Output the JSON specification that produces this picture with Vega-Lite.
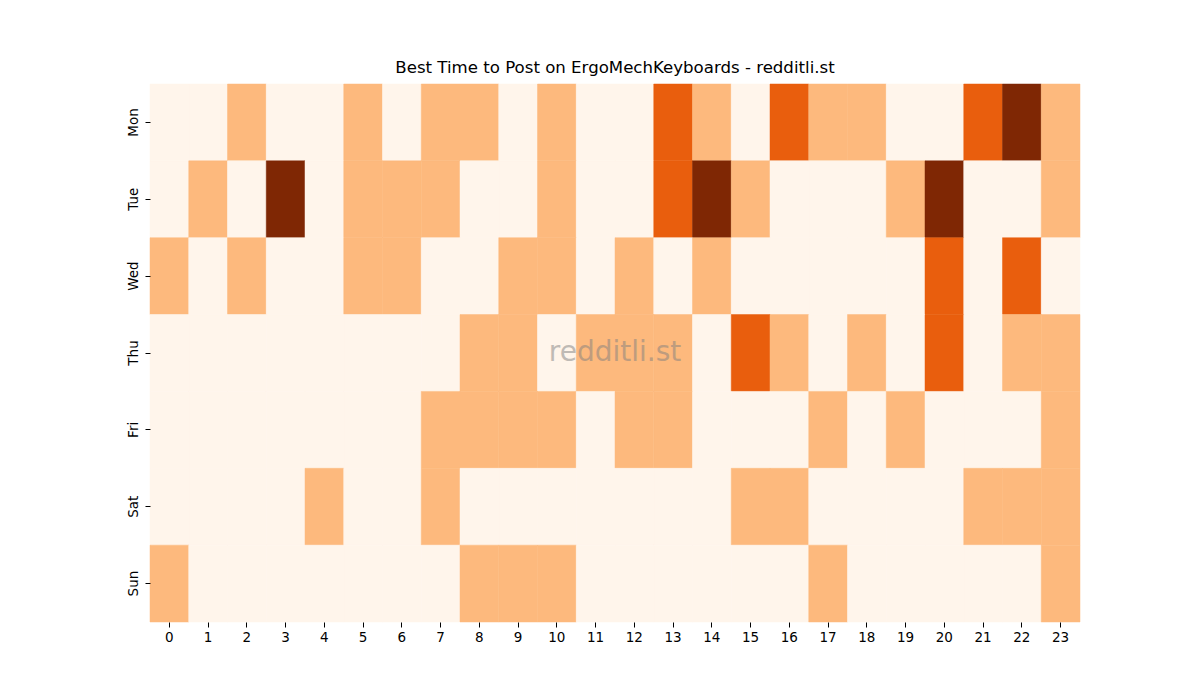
{
  "$schema": "https://vega.github.io/schema/vega-lite/v6.json",
  "autosize": {"type": "none"},
  "padding": {"left": 150, "top": 84, "right": 120, "bottom": 78},
  "width": 930,
  "height": 538,
  "title": {"text": "Best Time to Post on ErgoMechKeyboards - redditli.st", "fontSize": 16.6, "fontWeight": "normal", "font": "DejaVu Sans", "color": "black", "offset": 7},
  "config": {"view": {"stroke": null}, "font": "DejaVu Sans"},
  "layer": [
    {
      "data": {"values": [
        {"day":"Mon","hour":0,"level":0},{"day":"Mon","hour":1,"level":0},{"day":"Mon","hour":2,"level":1},{"day":"Mon","hour":3,"level":0},{"day":"Mon","hour":4,"level":0},{"day":"Mon","hour":5,"level":1},{"day":"Mon","hour":6,"level":0},{"day":"Mon","hour":7,"level":1},{"day":"Mon","hour":8,"level":1},{"day":"Mon","hour":9,"level":0},{"day":"Mon","hour":10,"level":1},{"day":"Mon","hour":11,"level":0},{"day":"Mon","hour":12,"level":0},{"day":"Mon","hour":13,"level":2},{"day":"Mon","hour":14,"level":1},{"day":"Mon","hour":15,"level":0},{"day":"Mon","hour":16,"level":2},{"day":"Mon","hour":17,"level":1},{"day":"Mon","hour":18,"level":1},{"day":"Mon","hour":19,"level":0},{"day":"Mon","hour":20,"level":0},{"day":"Mon","hour":21,"level":2},{"day":"Mon","hour":22,"level":3},{"day":"Mon","hour":23,"level":1},
        {"day":"Tue","hour":0,"level":0},{"day":"Tue","hour":1,"level":1},{"day":"Tue","hour":2,"level":0},{"day":"Tue","hour":3,"level":3},{"day":"Tue","hour":4,"level":0},{"day":"Tue","hour":5,"level":1},{"day":"Tue","hour":6,"level":1},{"day":"Tue","hour":7,"level":1},{"day":"Tue","hour":8,"level":0},{"day":"Tue","hour":9,"level":0},{"day":"Tue","hour":10,"level":1},{"day":"Tue","hour":11,"level":0},{"day":"Tue","hour":12,"level":0},{"day":"Tue","hour":13,"level":2},{"day":"Tue","hour":14,"level":3},{"day":"Tue","hour":15,"level":1},{"day":"Tue","hour":16,"level":0},{"day":"Tue","hour":17,"level":0},{"day":"Tue","hour":18,"level":0},{"day":"Tue","hour":19,"level":1},{"day":"Tue","hour":20,"level":3},{"day":"Tue","hour":21,"level":0},{"day":"Tue","hour":22,"level":0},{"day":"Tue","hour":23,"level":1},
        {"day":"Wed","hour":0,"level":1},{"day":"Wed","hour":1,"level":0},{"day":"Wed","hour":2,"level":1},{"day":"Wed","hour":3,"level":0},{"day":"Wed","hour":4,"level":0},{"day":"Wed","hour":5,"level":1},{"day":"Wed","hour":6,"level":1},{"day":"Wed","hour":7,"level":0},{"day":"Wed","hour":8,"level":0},{"day":"Wed","hour":9,"level":1},{"day":"Wed","hour":10,"level":1},{"day":"Wed","hour":11,"level":0},{"day":"Wed","hour":12,"level":1},{"day":"Wed","hour":13,"level":0},{"day":"Wed","hour":14,"level":1},{"day":"Wed","hour":15,"level":0},{"day":"Wed","hour":16,"level":0},{"day":"Wed","hour":17,"level":0},{"day":"Wed","hour":18,"level":0},{"day":"Wed","hour":19,"level":0},{"day":"Wed","hour":20,"level":2},{"day":"Wed","hour":21,"level":0},{"day":"Wed","hour":22,"level":2},{"day":"Wed","hour":23,"level":0},
        {"day":"Thu","hour":0,"level":0},{"day":"Thu","hour":1,"level":0},{"day":"Thu","hour":2,"level":0},{"day":"Thu","hour":3,"level":0},{"day":"Thu","hour":4,"level":0},{"day":"Thu","hour":5,"level":0},{"day":"Thu","hour":6,"level":0},{"day":"Thu","hour":7,"level":0},{"day":"Thu","hour":8,"level":1},{"day":"Thu","hour":9,"level":1},{"day":"Thu","hour":10,"level":0},{"day":"Thu","hour":11,"level":1},{"day":"Thu","hour":12,"level":1},{"day":"Thu","hour":13,"level":1},{"day":"Thu","hour":14,"level":0},{"day":"Thu","hour":15,"level":2},{"day":"Thu","hour":16,"level":1},{"day":"Thu","hour":17,"level":0},{"day":"Thu","hour":18,"level":1},{"day":"Thu","hour":19,"level":0},{"day":"Thu","hour":20,"level":2},{"day":"Thu","hour":21,"level":0},{"day":"Thu","hour":22,"level":1},{"day":"Thu","hour":23,"level":1},
        {"day":"Fri","hour":0,"level":0},{"day":"Fri","hour":1,"level":0},{"day":"Fri","hour":2,"level":0},{"day":"Fri","hour":3,"level":0},{"day":"Fri","hour":4,"level":0},{"day":"Fri","hour":5,"level":0},{"day":"Fri","hour":6,"level":0},{"day":"Fri","hour":7,"level":1},{"day":"Fri","hour":8,"level":1},{"day":"Fri","hour":9,"level":1},{"day":"Fri","hour":10,"level":1},{"day":"Fri","hour":11,"level":0},{"day":"Fri","hour":12,"level":1},{"day":"Fri","hour":13,"level":1},{"day":"Fri","hour":14,"level":0},{"day":"Fri","hour":15,"level":0},{"day":"Fri","hour":16,"level":0},{"day":"Fri","hour":17,"level":1},{"day":"Fri","hour":18,"level":0},{"day":"Fri","hour":19,"level":1},{"day":"Fri","hour":20,"level":0},{"day":"Fri","hour":21,"level":0},{"day":"Fri","hour":22,"level":0},{"day":"Fri","hour":23,"level":1},
        {"day":"Sat","hour":0,"level":0},{"day":"Sat","hour":1,"level":0},{"day":"Sat","hour":2,"level":0},{"day":"Sat","hour":3,"level":0},{"day":"Sat","hour":4,"level":1},{"day":"Sat","hour":5,"level":0},{"day":"Sat","hour":6,"level":0},{"day":"Sat","hour":7,"level":1},{"day":"Sat","hour":8,"level":0},{"day":"Sat","hour":9,"level":0},{"day":"Sat","hour":10,"level":0},{"day":"Sat","hour":11,"level":0},{"day":"Sat","hour":12,"level":0},{"day":"Sat","hour":13,"level":0},{"day":"Sat","hour":14,"level":0},{"day":"Sat","hour":15,"level":1},{"day":"Sat","hour":16,"level":1},{"day":"Sat","hour":17,"level":0},{"day":"Sat","hour":18,"level":0},{"day":"Sat","hour":19,"level":0},{"day":"Sat","hour":20,"level":0},{"day":"Sat","hour":21,"level":1},{"day":"Sat","hour":22,"level":1},{"day":"Sat","hour":23,"level":1},
        {"day":"Sun","hour":0,"level":1},{"day":"Sun","hour":1,"level":0},{"day":"Sun","hour":2,"level":0},{"day":"Sun","hour":3,"level":0},{"day":"Sun","hour":4,"level":0},{"day":"Sun","hour":5,"level":0},{"day":"Sun","hour":6,"level":0},{"day":"Sun","hour":7,"level":0},{"day":"Sun","hour":8,"level":1},{"day":"Sun","hour":9,"level":1},{"day":"Sun","hour":10,"level":1},{"day":"Sun","hour":11,"level":0},{"day":"Sun","hour":12,"level":0},{"day":"Sun","hour":13,"level":0},{"day":"Sun","hour":14,"level":0},{"day":"Sun","hour":15,"level":0},{"day":"Sun","hour":16,"level":0},{"day":"Sun","hour":17,"level":1},{"day":"Sun","hour":18,"level":0},{"day":"Sun","hour":19,"level":0},{"day":"Sun","hour":20,"level":0},{"day":"Sun","hour":21,"level":0},{"day":"Sun","hour":22,"level":0},{"day":"Sun","hour":23,"level":1}
      ]},
      "mark": {"type": "rect", "strokeWidth": 0.5},
      "encoding": {
        "x": {
          "field": "hour", "type": "ordinal",
          "scale": {"paddingInner": 0, "paddingOuter": 0},
          "axis": {"title": null, "labelAngle": 0, "domain": false, "tickColor": "black", "tickSize": 5, "labelFontSize": 13.5, "labelColor": "black", "labelPadding": 3}
        },
        "y": {
          "field": "day", "type": "ordinal",
          "sort": ["Mon", "Tue", "Wed", "Thu", "Fri", "Sat", "Sun"],
          "scale": {"paddingInner": 0, "paddingOuter": 0},
          "axis": {"title": null, "labelAngle": 270, "labelAlign": "center", "labelBaseline": "bottom", "domain": false, "tickColor": "black", "tickSize": 5, "labelFontSize": 13.5, "labelColor": "black", "labelPadding": 5}
        },
        "color": {
          "field": "level", "type": "ordinal",
          "scale": {"domain": [0, 1, 2, 3], "range": ["#fff5eb", "#fdb97d", "#e95e0d", "#7f2704"]},
          "legend": null
        },
        "stroke": {
          "field": "level", "type": "ordinal",
          "scale": {"domain": [0, 1, 2, 3], "range": ["#fff5eb", "#fdb97d", "#e95e0d", "#7f2704"]},
          "legend": null
        }
      }
    },
    {
      "data": {"values": [{"label": "redditli.st"}]},
      "mark": {"type": "text", "fontSize": 28, "color": "gray", "opacity": 0.5, "align": "center", "baseline": "middle"},
      "encoding": {
        "x": {"datum": 12, "type": "ordinal", "bandPosition": 0},
        "y": {"datum": "Thu", "type": "ordinal", "bandPosition": 0.5},
        "text": {"field": "label"}
      }
    }
  ]
}
